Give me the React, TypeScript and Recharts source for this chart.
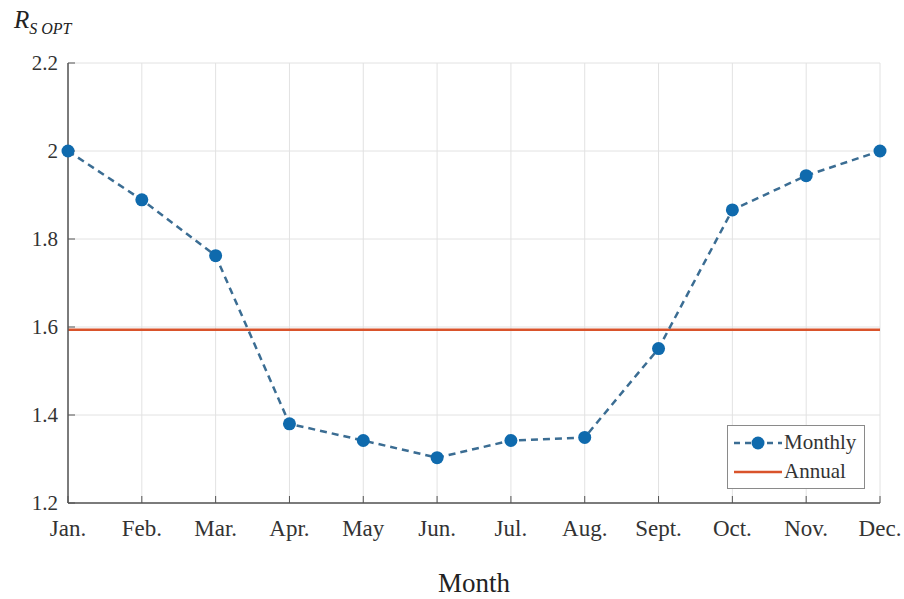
import { LineChart, Line, XAxis, YAxis, CartesianGrid, ReferenceLine } from "recharts";

const months = ["Jan.", "Feb.", "Mar.", "Apr.", "May", "Jun.", "Jul.", "Aug.", "Sept.", "Oct.", "Nov.", "Dec."];
const monthly = [2.0, 1.889, 1.762, 1.38, 1.342, 1.303, 1.342, 1.349, 1.551, 1.866, 1.944, 2.0];
const ANNUAL = 1.594;
const yTicks = [1.2, 1.4, 1.6, 1.8, 2, 2.2];

const data = months.map((m, i) => ({ month: m, monthly: monthly[i] }));

const FONT = "'Liberation Serif', 'Times New Roman', serif";
const BLUE = "#0f6aad";
const DASH = "#3b6d93";
const RED = "#d9532b";

function LegendBox() {
  return (
    <div
      style={{
        position: "absolute",
        left: 727,
        top: 425,
        background: "#fff",
        border: "1.5px solid #8a8a8a",
        padding: "2px 8px 2px 4px",
        fontFamily: FONT,
        fontSize: 21,
        color: "#333",
        lineHeight: "29px",
      }}
    >
      <div style={{ display: "flex", alignItems: "center" }}>
        <svg width={52} height={20}>
          <line x1={2} y1={10} x2={50} y2={10} stroke={DASH} strokeWidth={2.5} strokeDasharray="6 5" />
          <circle cx={26} cy={10} r={6.5} fill={BLUE} />
        </svg>
        <span>Monthly</span>
      </div>
      <div style={{ display: "flex", alignItems: "center" }}>
        <svg width={52} height={20}>
          <line x1={2} y1={10} x2={50} y2={10} stroke={RED} strokeWidth={2.5} />
        </svg>
        <span>Annual</span>
      </div>
    </div>
  );
}

export default function App() {
  return (
    <div style={{ position: "absolute", left: 0, top: 0, width: 904, height: 599, background: "#fff" }}>
      <div
        style={{
          position: "absolute",
          left: 14,
          top: 6,
          fontFamily: FONT,
          fontStyle: "italic",
          fontSize: 25,
          color: "#222",
        }}
      >
        R<sub style={{ fontSize: 16 }}>S OPT</sub>
      </div>
      <LineChart width={904} height={599} data={data} margin={{ top: 63, right: 24, bottom: 46, left: 8 }}>
        <CartesianGrid stroke="#e2e2e2" strokeWidth={1} />
        <XAxis
          dataKey="month"
          interval={0}
          axisLine={{ stroke: "#555", strokeWidth: 1.5 }}
          tickLine={{ stroke: "#555" }}
          tickSize={-7}
          tickMargin={24}
          height={50}
          tick={{ fontFamily: FONT, fontSize: 23, fill: "#333" }}
          label={{ value: "Month", position: "bottom", offset: 20, style: { fontFamily: FONT, fontSize: 27, fill: "#222" } }}
        />
        <XAxis xAxisId="top" dataKey="month" orientation="top" tick={false} tickLine={false} height={0} axisLine={{ stroke: "#8a8a8a", strokeWidth: 1.5 }} />
        <YAxis
          domain={[1.2, 2.2]}
          ticks={yTicks}
          width={60}
          axisLine={{ stroke: "#555", strokeWidth: 1.5 }}
          tickLine={{ stroke: "#555" }}
          tickSize={-7}
          tickMargin={17}
          tick={{ fontFamily: FONT, fontSize: 21, fill: "#333" }}
        />
        <YAxis yAxisId="right" orientation="right" domain={[1.2, 2.2]} tick={false} tickLine={false} width={0} axisLine={{ stroke: "#8a8a8a", strokeWidth: 1.5 }} />
        <ReferenceLine y={ANNUAL} stroke={RED} strokeWidth={2.5} ifOverflow="extendDomain" />
        <Line
          dataKey="monthly"
          stroke={DASH}
          strokeWidth={2.5}
          strokeDasharray="7 5"
          dot={{ r: 6.5, fill: BLUE, stroke: BLUE, strokeWidth: 0 }}
          activeDot={false}
          isAnimationActive={false}
        />
      </LineChart>
      <LegendBox />
    </div>
  );
}
